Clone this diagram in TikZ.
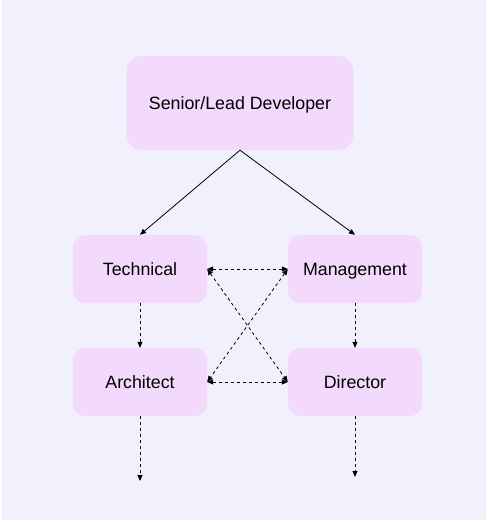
\documentclass[tikz,border=0pt]{standalone}
\usepackage{fontspec}
\setmainfont{Liberation Sans}
\usetikzlibrary{arrows.meta}
\definecolor{bgpurple}{RGB}{241,241,254}
\definecolor{boxpink}{RGB}{243,217,251}
\begin{document}
\begin{tikzpicture}[x=1pt,y=-1pt]
	\tikzstyle{role} = [fill=boxpink, rounded corners=12, inner sep=0, minimum width=134, minimum height=68, text height=13, text depth=0, font=\fontsize{17.8}{21}\selectfont]
	\tikzstyle{toprole} = [role, rounded corners=15, minimum width=227, minimum height=94]
	\tikzstyle{solid} = [-{Triangle[length=6,width=5]}, line width=0.8]
	\tikzstyle{path} = [{Triangle[length=6,width=5]}-{Triangle[length=6,width=5]}, line width=0.8, dash pattern=on 3 off 3]
	\tikzstyle{next} = [-{Triangle[length=6,width=5]}, line width=0.8, dash pattern=on 3 off 3]
	\useasboundingbox [fill=white] (0,0) rectangle (488,523);
\fill [bgpurple] (2,0) rectangle (486,520);
\node [toprole] (senior) at (240,103) {Senior/Lead Developer};
\node [role] (tech) at (140,269) {Technical};
\node [role] (mgmt) at (355,269) {Management};
\node [role] (arch) at (140,382) {Architect};
\node [role] (dir) at (355,382) {Director};
\coordinate (archnext) at (140,481);
\coordinate (dirnext) at (355,477);
\draw [solid] (senior.south) -- (tech.north);
\draw [solid] (senior.south) -- (mgmt.north);
\draw [next] (tech) -- (arch);
\draw [next] (mgmt) -- (dir);
\draw [path] (tech.east) -- (mgmt.west);
\draw [path] (arch.east) -- (dir.west);
\draw [path] (tech.east) -- (dir.west);
\draw [path] (mgmt.west) -- (arch.east);
\draw [next] (arch) -- (archnext);
\draw [next] (dir) -- (dirnext);
\end{tikzpicture}
\end{document}
